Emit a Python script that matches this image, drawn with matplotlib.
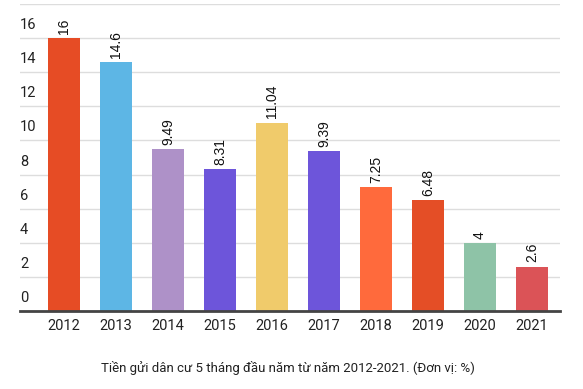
import matplotlib.pyplot as plt
import numpy as np

plt.rcParams["font.family"] = ["Roboto", "DejaVu Sans"]

years = ["2012", "2013", "2014", "2015", "2016", "2017", "2018", "2019", "2020", "2021"]
values = [16, 14.6, 9.49, 8.31, 11.04, 9.39, 7.25, 6.48, 4, 2.6]
value_labels = ["16", "14.6", "9.49", "8.31", "11.04", "9.39", "7.25", "6.48", "4", "2.6"]
colors = ["#E64C25", "#5DB6E5", "#AE91C8", "#6D55DA", "#F0CB6B",
          "#6D55DA", "#FF6A3C", "#E44E26", "#8EC3A7", "#DB5357"]
yticks = [0, 2, 4, 6, 8, 10, 12, 14, 16, 18]
caption = "Tiền gửi dân cư 5 tháng đầu năm từ năm 2012-2021. (Đơn vị: %)"

fig = plt.figure(figsize=(5.83, 3.89), dpi=100)
ax = fig.add_axes([20 / 583, 78 / 389, 540 / 583, 307 / 389])

x = np.arange(len(years))
ax.bar(x, values, width=0.615, color=colors, zorder=2)

for xi, v, lab in zip(x, values, value_labels):
    ax.text(xi, v + 0.25, lab, rotation=90, ha="center", va="bottom",
            fontsize=10, color="#111111", family=["Liberation Sans", "DejaVu Sans"])

ax.set_xlim(-0.846, 9.538)
ax.set_ylim(0, 18)
ax.set_yticks(yticks)
ax.set_yticklabels([])
ax.tick_params(axis="y", length=0)
ax.yaxis.grid(True, color="#dddddd", linewidth=1, zorder=0)
ax.set_axisbelow(True)

for t in yticks[:-1]:
    ax.text(0, t + 0.35, str(t), transform=ax.get_yaxis_transform(),
            ha="left", va="bottom", fontsize=10.5, color="#222222")

ax.set_xticks(x)
ax.set_xticklabels(years, fontsize=10.5, color="#222222")
ax.tick_params(axis="x", length=0, pad=6)

for s in ["top", "right", "left"]:
    ax.spines[s].set_visible(False)
ax.spines["bottom"].set_color("#444444")
ax.spines["bottom"].set_linewidth(2)

fig.text(288 / 583, 1 - 368 / 389, caption, ha="center", va="center",
         fontsize=9.5, color="#222222")

fig.savefig("out.png", dpi=100)
